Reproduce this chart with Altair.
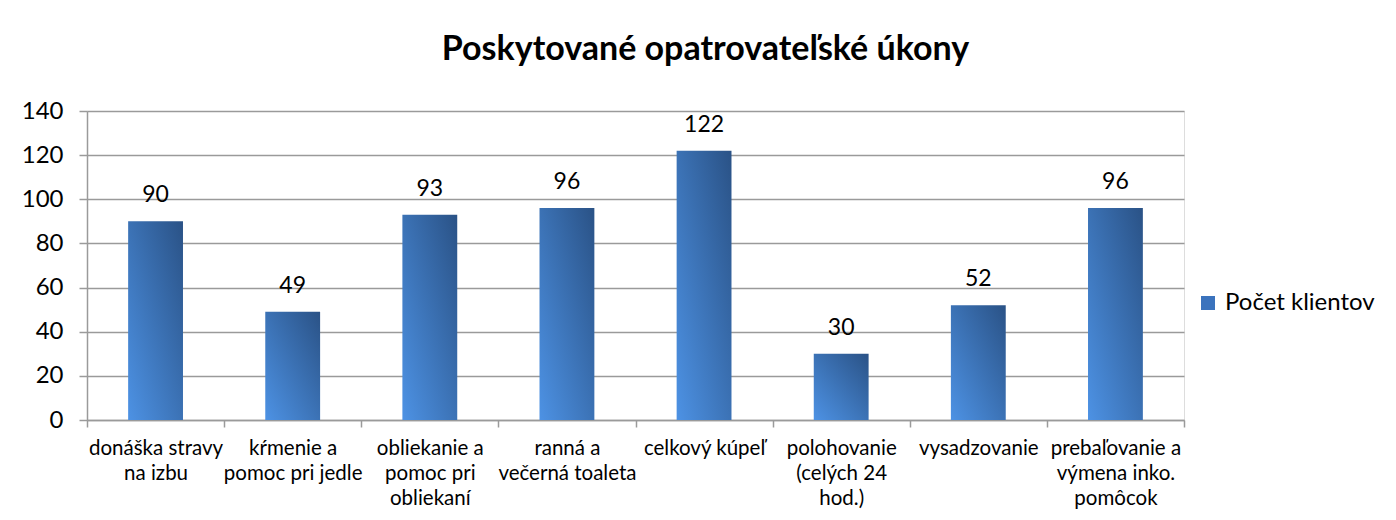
import altair as alt
import pandas as pd

categories = [
    "donáška stravy\nna izbu",
    "kŕmenie a\npomoc pri jedle",
    "obliekanie a\npomoc pri\nobliekaní",
    "ranná a\nvečerná toaleta",
    "celkový kúpeľ",
    "polohovanie\n(celých 24\nhod.)",
    "vysadzovanie",
    "prebaľovanie a\nvýmena inko.\npomôcok",
]
values = [90, 49, 93, 96, 122, 30, 52, 96]
series = ["Počet klientov"] * len(values)
y_ticks = [0, 20, 40, 60, 80, 100, 120, 140]

df = pd.DataFrame({"kategoria": categories, "hodnota": values, "seria": series})

FONT = "Lato"
grad = alt.LinearGradient(
    gradient="linear",
    stops=[alt.GradientStop(color="#4d92e4", offset=0),
           alt.GradientStop(color="#2a5286", offset=1)],
    x1=0, y1=1, x2=1, y2=0,
)

x_enc = alt.X(
    "kategoria:N", sort=None, title=None,
    scale=alt.Scale(paddingInner=0, paddingOuter=0),
    axis=alt.Axis(
        labelExpr="split(datum.label, '\\n')",
        labelAngle=0, labelFontSize=20.5, labelLineHeight=25, labelPadding=11,
        tickBand="extent", tickSize=7, tickColor="#9a9a9a", domainColor="#9a9a9a",
        domainWidth=1.5, tickWidth=1.5, labelColor="#000000", labelFont=FONT,
        grid=False, labelLimit=200,
    ),
)
y_enc = alt.Y(
    "hodnota:Q", title=None,
    scale=alt.Scale(domain=[0, 140], nice=False),
    axis=alt.Axis(
        values=y_ticks, labelFontSize=24, labelPadding=16, tickSize=8,
        tickColor="#9a9a9a", domainColor="#9a9a9a", domainWidth=1.5, tickWidth=1.5,
        gridColor="#9a9a9a", gridWidth=1.5, labelColor="#000000", labelFont=FONT,
    ),
)

bars = alt.Chart(df).mark_bar(width=alt.RelativeBandSize(0.4)).encode(
    x=x_enc,
    y=y_enc,
    fill=alt.value(grad),
)

legend_layer = alt.Chart(df).mark_square(size=0, opacity=1).encode(
    x=alt.X("kategoria:N", sort=None),
    y=alt.Y("hodnota:Q"),
    color=alt.Color(
        "seria:N", title=None,
        scale=alt.Scale(range=["#3b73bd"]),
        legend=alt.Legend(
            orient="none", legendX=1109, legendY=180, symbolType="square",
            symbolSize=196, labelFontSize=24, labelFont=FONT, labelColor="#000000",
            labelOffset=5, padding=0, symbolStrokeWidth=0, symbolOpacity=1,
        ),
    ),
)

labels = alt.Chart(df).mark_text(
    fontSize=23, font=FONT, color="#000000", baseline="alphabetic", dy=-19
).encode(
    x=alt.X("kategoria:N", sort=None),
    y=alt.Y("hodnota:Q"),
    text=alt.Text("hodnota:Q"),
)

chart = alt.layer(bars, labels, legend_layer).properties(
    width=1097,
    height=309,
    autosize=alt.AutoSizeParams(type="none"),
    padding={"left": 79, "top": 103, "right": 204, "bottom": 92},
    title=alt.Title(
        "Poskytované opatrovateľské úkony", fontSize=34, font=FONT, fontWeight="bold",
        color="#000000", anchor="middle", dx=70, offset=5, baseline="alphabetic",
    ),
).configure_view(stroke=None).configure(background="#ffffff")

chart.save("out.html", embed_options={"renderer": "svg", "actions": False})
